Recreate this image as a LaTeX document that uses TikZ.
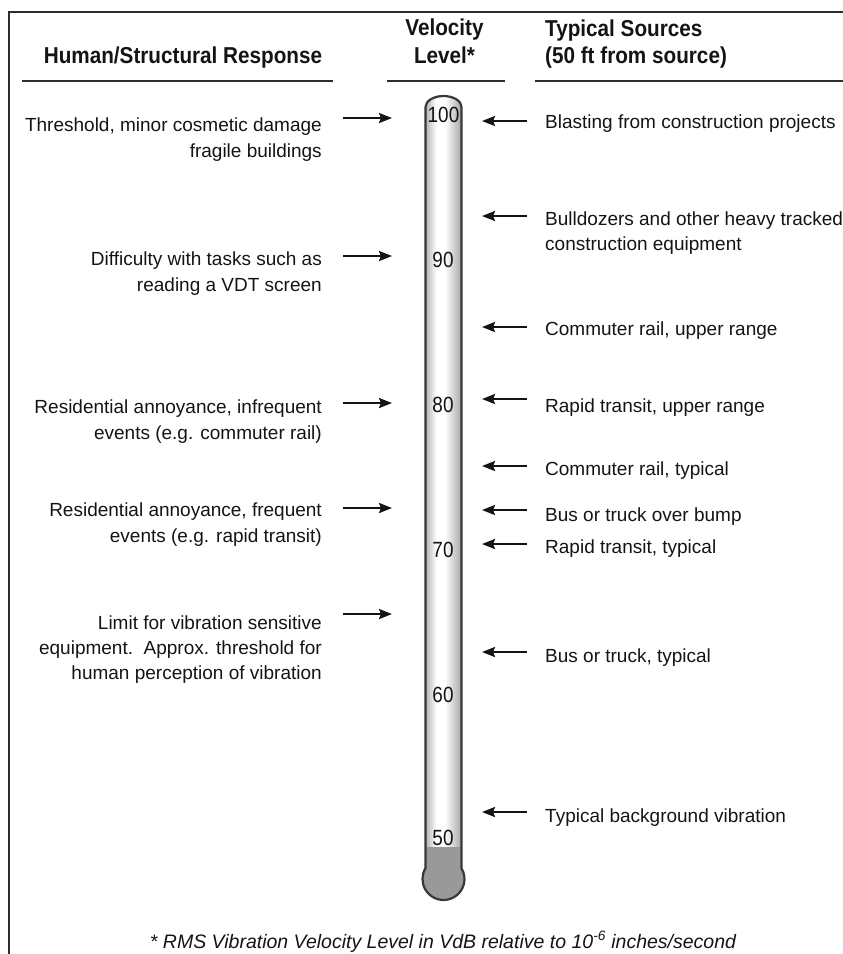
\documentclass[tikz,border=0pt]{standalone}
\usepackage{fontspec}
\setmainfont{Liberation Sans}
\newfontfamily\hdrfont[FakeStretch=0.9]{Liberation Sans}
\newfontfamily\numfont[FakeStretch=0.86]{Liberation Sans}
\usetikzlibrary{arrows.meta}
\definecolor{ink}{HTML}{141414}
\definecolor{rule}{HTML}{2E2E2E}
\definecolor{tubeline}{HTML}{383838}
\definecolor{bulbfill}{HTML}{999999}
\pgfdeclarehorizontalshading{tubeshade}{100bp}{color(0bp)=(gray!60); color(25bp)=(gray!60); color(40bp)=(white); color(52bp)=(white); color(75bp)=(gray!70); color(100bp)=(gray!70)}
\tikzset{
  lbl/.style={inner sep=0pt, text=ink, font=\fontsize{19}{26}\selectfont},
  lleft/.style={lbl, anchor=base east},
  lright/.style={lbl, anchor=base west},
  hdr/.style={inner sep=0pt, text=ink, anchor=base, font=\hdrfont\bfseries\fontsize{23}{28}\selectfont},
  hdrl/.style={hdr, anchor=base west},
  num/.style={inner sep=0pt, text=ink, anchor=base, font=\numfont\fontsize{22}{24}\selectfont},
  arr/.style={draw=ink, line width=2.4pt, -{Stealth[length=13pt,width=10pt,inset=2pt]}},
  hrule/.style={draw=rule, line width=2.8pt},
  frame/.style={draw=rule, line width=1.8pt},
}
\begin{document}
\begin{tikzpicture}[x=1pt,y=-1pt]
\useasboundingbox (0,0) rectangle (843,954);
% frame
\coordinate (fbl) at (9,960);
\coordinate (ftl) at (9,12);
\coordinate (ftr) at (850,12);
\draw[frame] (fbl) -- (ftl) -- (ftr);

% headers
\node[hdr] (h1) at (183,63) {Human/Structural Response};
\node[hdr] (h2a) at (444.5,35) {Velocity};
\node[hdr] (h2b) at (444.5,63) {Level*};
\node[hdrl] (h3a) at (545,36) {Typical Sources};
\node[hdrl] (h3b) at (545,63) {(50 ft from source)};
\coordinate (u1a) at (22,81); \coordinate (u1b) at (333,81);
\coordinate (u2a) at (387,81); \coordinate (u2b) at (505,81);
\coordinate (u3a) at (535,81); \coordinate (u3b) at (850,81);
\draw[hrule] (u1a) -- (u1b);
\draw[hrule] (u2a) -- (u2b);
\draw[hrule] (u3a) -- (u3b);

% thermometer
\shade[shading=tubeshade] (425.5,847) -- (425.5,107) arc[start angle=180,end angle=360,x radius=18,y radius=11] -- (461.5,847) -- cycle;
\fill[bulbfill] (425.5,847) -- (461.5,847) -- (461.5,868.2) arc[start angle=-30.96,end angle=210.96,radius=21] -- cycle;
\draw[tubeline, line width=2.2pt, line join=round] (425.5,868.2) -- (425.5,107) arc[start angle=180,end angle=360,x radius=18,y radius=11] -- (461.5,868.2) arc[start angle=-30.96,end angle=210.96,radius=21] -- cycle;

% scale numbers
\node[num] (n100) at (443.5,122) {100};
\node[num] (n90) at (443,267) {90};
\node[num] (n80) at (443,412) {80};
\node[num] (n70) at (443,557) {70};
\node[num] (n60) at (443,702) {60};
\node[num] (n50) at (443,845) {50};

% left column texts
\node[lleft] (l1a) at (322,131) {Threshold, minor cosmetic damage};
\node[lleft] (l1b) at (322,157) {fragile buildings};
\node[lleft] (l2a) at (322,265) {Difficulty with tasks such as};
\node[lleft] (l2b) at (322,291) {reading a VDT screen};
\node[lleft] (l3a) at (322,413) {Residential annoyance, infrequent};
\node[lleft] (l3b) at (322,439) {events (e.g. commuter rail)};
\node[lleft] (l4a) at (322,516) {Residential annoyance, frequent};
\node[lleft] (l4b) at (322,542) {events (e.g. rapid transit)};
\node[lleft] (l5a) at (322,629) {Limit for vibration sensitive};
\node[lleft] (l5b) at (322,654) {equipment.\ \ Approx. threshold for};
\node[lleft] (l5c) at (322,679) {human perception of vibration};

% left arrows
\foreach \i/\y in {1/118,2/256,3/403,4/508,5/614}{
  \coordinate (la\i s) at (343,\y);
  \coordinate (la\i e) at (392,\y);
  \draw[arr] (la\i s) -- (la\i e);
}

% right column texts
\node[lright] (r1) at (545,128) {Blasting from construction projects};
\node[lright] (r2a) at (545,225) {Bulldozers and other heavy tracked};
\node[lright] (r2b) at (545,250) {construction equipment};
\node[lright] (r3) at (545,335) {Commuter rail, upper range};
\node[lright] (r4) at (545,412) {Rapid transit, upper range};
\node[lright] (r5) at (545,475) {Commuter rail, typical};
\node[lright] (r6) at (545,521) {Bus or truck over bump};
\node[lright] (r7) at (545,553) {Rapid transit, typical};
\node[lright] (r8) at (545,662) {Bus or truck, typical};
\node[lright] (r9) at (545,822) {Typical background vibration};

% right arrows
\foreach \i/\y in {1/121,2/216,3/327,4/399,5/466,6/510,7/544,8/652,9/812}{
  \coordinate (ra\i s) at (527,\y);
  \coordinate (ra\i e) at (482,\y);
  \draw[arr] (ra\i s) -- (ra\i e);
}

% footnote
\node[lbl, anchor=base, font=\itshape\fontsize{19.5}{24}\selectfont] (foot) at (443,948) {* RMS Vibration Velocity Level in VdB relative to 10\textsuperscript{-6} inches/second};
\end{tikzpicture}
\end{document}
